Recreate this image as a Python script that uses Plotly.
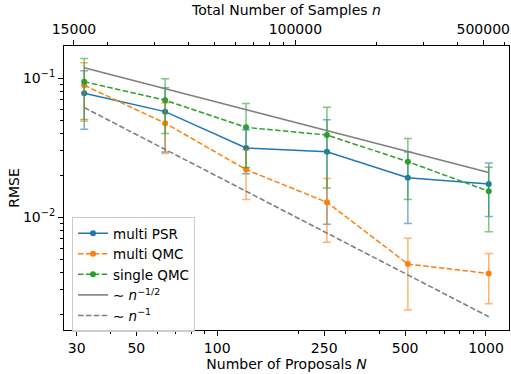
import plotly.graph_objects as go
import numpy as np

# ---- data ----
N = [32, 64, 128, 256, 512, 1024]
samples_per_proposal = 512  # n = 512 * N (top axis)

psr = [0.078, 0.0575, 0.0315, 0.0296, 0.0192, 0.0173]
psr_err = [0.035, 0.028, 0.011, 0.0207, 0.0102, 0.0072]

mqmc = [0.089, 0.0475, 0.0220, 0.0128, 0.0046, 0.00393]
mqmc_err = [0.040, 0.0188, 0.0086, 0.0062, 0.00245, 0.00155]

sqmc = [0.0945, 0.0695, 0.0443, 0.0390, 0.0251, 0.01537]
sqmc_err = [0.044, 0.0295, 0.0215, 0.0228, 0.0117, 0.0075]

ref_half = [0.119, 0.0842, 0.0595, 0.0421, 0.0298, 0.0210]
ref_one = [0.0615, 0.0308, 0.0154, 0.0077, 0.00385, 0.00192]

x_ticks = [30, 50, 100, 250, 500, 1000]
x_minor = [40, 60, 70, 80, 90, 200, 300, 400, 600, 700, 800, 900]
top_ticks = [15000, 100000, 500000]
top_minor = [20000, 30000, 40000, 50000, 60000, 70000, 80000, 90000,
             200000, 300000, 400000, 600000]
y_ticks = [0.1, 0.01]
y_ticktext = ["10<sup>−1</sup>", "10<sup>−2</sup>"]
y_minor = [m * 10.0 ** e for e in (-3, -2, -1) for m in range(2, 10)]

BLUE = "#1f77b4"
ORANGE = "#ff7f0e"
GREEN = "#2ca02c"
GRAY = "#7f7f7f"
FONT = "DejaVu Sans"
FS = 14
DASH = "5.5px,2.4px"


def rgba(hexc, a):
    h = hexc.lstrip("#")
    r, g, b = int(h[0:2], 16), int(h[2:4], 16), int(h[4:6], 16)
    return f"rgba({r},{g},{b},{a})"


fig = go.Figure()


def add_series(y, err, color, dash, name):
    fig.add_trace(go.Scatter(
        x=N, y=y, name=name, mode="lines+markers",
        line=dict(color=color, width=1.5, dash=dash),
        marker=dict(color=color, size=6, symbol="circle"),
        error_y=dict(type="data", array=err, visible=True,
                     color=rgba(color, 0.6), thickness=1.5, width=4),
    ))


add_series(psr, psr_err, BLUE, "solid", "multi PSR")
add_series(mqmc, mqmc_err, ORANGE, DASH, "multi QMC")
add_series(sqmc, sqmc_err, GREEN, DASH, "single QMC")

fig.add_trace(go.Scatter(
    x=N, y=ref_half, mode="lines", name="∼ <i>n</i><sup>−1/2</sup>",
    line=dict(color=GRAY, width=1.6)))
fig.add_trace(go.Scatter(
    x=N, y=ref_one, mode="lines", name="∼ <i>n</i><sup>−1</sup>",
    line=dict(color=GRAY, width=1.6, dash=DASH)))

# invisible trace carrying the top axis
fig.add_trace(go.Scatter(
    x=[v * samples_per_proposal for v in N], y=psr, xaxis="x2", yaxis="y",
    mode="markers", marker=dict(opacity=0), showlegend=False,
    hoverinfo="skip"))

xr = [np.log10(N[0]) - 0.0753, np.log10(N[-1]) + 0.0753]
off = np.log10(samples_per_proposal)

axis_common = dict(
    type="log", showgrid=False, zeroline=False, showline=True,
    linecolor="black", linewidth=1, ticks="outside", ticklen=5,
    tickwidth=1, tickcolor="black", automargin=False,
    tickfont=dict(family=FONT, size=FS, color="black"),
)

fig.update_layout(
    width=511, height=374,
    margin=dict(l=64, r=2, t=46, b=44),
    paper_bgcolor="white", plot_bgcolor="white",
    font=dict(family=FONT, size=FS, color="black"),
    xaxis=dict(
        **axis_common, range=xr, mirror=True,
        tickmode="array", tickvals=x_ticks, ticktext=[str(t) for t in x_ticks],
        minor=dict(ticks="outside", ticklen=3, tickwidth=1, tickcolor="black",
                   tickmode="array", tickvals=x_minor),
        title=dict(text="Number of Proposals <i>N</i>",
                   font=dict(family=FONT, size=FS, color="black"), standoff=2),
    ),
    xaxis2=dict(
        **axis_common, range=[xr[0] + off, xr[1] + off],
        overlaying="x", side="top", anchor="y",
        tickmode="array", tickvals=top_ticks,
        ticktext=[str(t) for t in top_ticks],
        minor=dict(ticks="outside", ticklen=3, tickwidth=1, tickcolor="black",
                   tickmode="array", tickvals=top_minor),
        title=dict(text="Total Number of Samples <i>n</i>",
                   font=dict(family=FONT, size=FS, color="black"), standoff=2),
    ),
    yaxis=dict(
        **axis_common, range=[-2.812, -0.768], mirror=True,
        tickmode="array", tickvals=y_ticks, ticktext=y_ticktext,
        minor=dict(ticks="outside", ticklen=3, tickwidth=1, tickcolor="black",
                   tickmode="array", tickvals=y_minor),
        title=dict(text="RMSE",
                   font=dict(family=FONT, size=FS, color="black"), standoff=0),
    ),
    legend=dict(
        x=0.018, y=0.398, xanchor="left", yanchor="top",
        bgcolor="rgba(255,255,255,0.8)", bordercolor="#cccccc", borderwidth=1,
        font=dict(family=FONT, size=13.5, color="black"),
        tracegroupgap=0, itemwidth=30,
    ),
    showlegend=True,
)

fig.write_html(
    "out.html",
    config={"displayModeBar": False},
    post_script="document.body.style.margin='0';document.body.style.padding='0';",
)
